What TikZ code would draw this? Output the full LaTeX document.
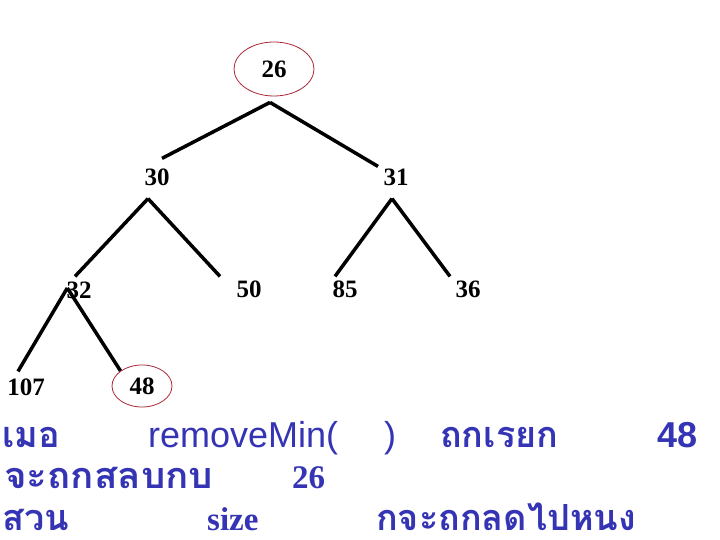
\documentclass[tikz,border=0pt]{standalone}
\usepackage{fontspec}
\setmainfont{Liberation Serif}
\setsansfont{Liberation Sans}
\newfontfamily\thaifont[Script=Thai]{Loma}
\definecolor{heapblue}{RGB}{52,52,180}
\definecolor{ringred}{RGB}{170,40,55}
\tikzset{
  key/.style={inner sep=0pt, font=\fontsize{25}{25}\selectfont\bfseries},
  ring/.style={ellipse, draw=ringred, line width=0.8pt},
  branch/.style={line width=3.5pt},
  thai/.style={anchor=base west, inner sep=0pt, text depth=0pt, text=heapblue, font=\fontsize{36}{36}\selectfont\thaifont\bfseries},
  word/.style={anchor=base west, inner sep=0pt, text=heapblue}
}
\usetikzlibrary{shapes.geometric}
\begin{document}
\begin{tikzpicture}[x=1pt,y=-1pt]
  \useasboundingbox (0,0) rectangle (720,540);

  % heap
  \node (n26) at (274,69) [key, ring, minimum width=80pt, minimum height=54pt] {26};
  \node (n30) at (157,177) [key] {30};
  \node (n31) at (396,177) [key] {31};
  \node (n32) at (79,290) [key] {32};
  \node (n50) at (249,289) [key] {50};
  \node (n85) at (345,289) [key] {85};
  \node (n36) at (468,289) [key] {36};
  \node (n107) at (26,387) [key] {107};
  \node (n48) at (142,386) [key, ring, minimum width=60pt, minimum height=42pt] {48};

  \draw[branch] ([shift={(-4,6)}]n26.south) -- ([shift={(5,-10)}]n30.north);
  \draw[branch] ([shift={(-4,6)}]n26.south) -- ([shift={(-18,-2)}]n31.north);
  \draw[branch] ([shift={(-9,13)}]n30.south) -- ([shift={(-4,-5)}]n32.north);
  \draw[branch] ([shift={(-9,13)}]n30.south) -- ([shift={(-29,-4)}]n50.north);
  \draw[branch] ([shift={(-4,13)}]n31.south) -- ([shift={(-10,-4)}]n85.north);
  \draw[branch] ([shift={(-4,13)}]n31.south) -- ([shift={(-18,-4)}]n36.north);
  \draw[branch] ([shift={(1,-2)}]n32.west) -- ([shift={(-8,-7)}]n107.north);
  \draw[branch] ([shift={(1,-2)}]n32.west) -- (n48.north west);

  % text below
  \node (when) at (2,447) [thai] {เมอ};
  \node (call) at (148,447) [word, font=\fontsize{36}{36}\selectfont\sffamily] {removeMin(};
  \node (close) at (384,447) [word, font=\fontsize{36}{36}\selectfont\sffamily] {)};
  \node (called) at (440,447) [thai] {ถกเรยก};
  \node (last) at (657,447) [word, font=\fontsize{36}{36}\selectfont\sffamily\bfseries] {48};
  \node (swap) at (4,488) [thai, xscale=1.07] {จะถกสลบกบ};
  \node (root) at (292,488) [word, font=\fontsize{33}{33}\selectfont\bfseries] {26};
  \node (part) at (2,530) [thai] {สวน};
  \node (size) at (207,530) [word, font=\fontsize{33}{33}\selectfont\bfseries] {size};
  \node (less) at (376,530) [thai] {กจะถกลดไปหนง};
\end{tikzpicture}
\end{document}
